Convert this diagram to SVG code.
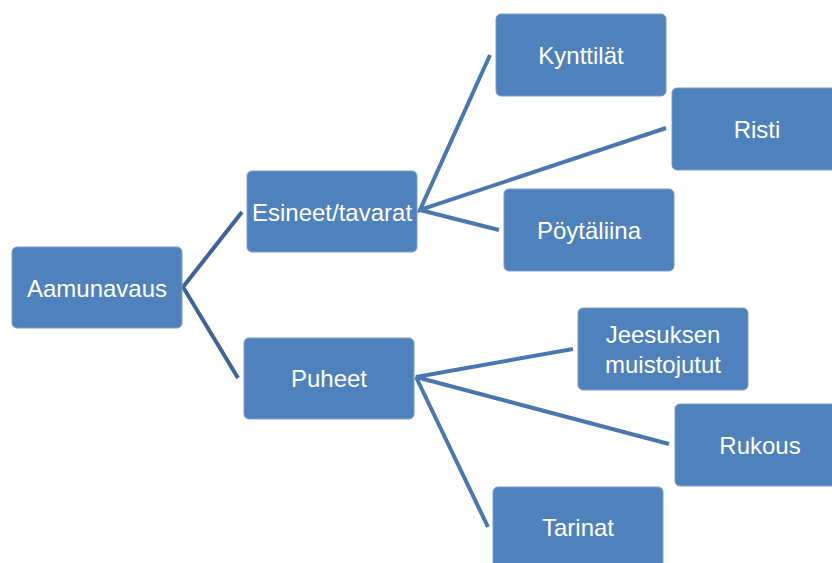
<svg xmlns="http://www.w3.org/2000/svg" width="832" height="563" viewBox="0 0 832 563">
<style>
.node rect{fill:#4F81BD;stroke:#7A9FCC;stroke-width:1}
.node text{fill:#FFFFFF;font-family:"Liberation Sans","Noto Sans",Arial,sans-serif;font-size:24px;text-anchor:middle;dominant-baseline:central}
.c1{stroke:#3C6595;stroke-width:4;fill:none}
.c2{stroke:#4A77AF;stroke-width:4;fill:none}
</style>
<rect width="832" height="563" fill="#FFFFFF"/>
<g id="connectors">
<path class="c1" d="M242,212 L183,287 L238,378"/>
<path class="c2" d="M490,55 L420,210 L666,128 M420,210 L499,230"/>
<path class="c2" d="M573,349 L416,377 L669,444 M416,377 L488,527"/>
</g>
<g id="n-aamunavaus" class="node"><rect x="12" y="247" width="170" height="81" rx="5"/><text x="97" y="288">Aamunavaus</text></g>
<g id="n-esineet" class="node"><rect x="247" y="171" width="170" height="81" rx="5"/><text x="332" y="212">Esineet/tavarat</text></g>
<g id="n-puheet" class="node"><rect x="244" y="338" width="170" height="81" rx="5"/><text x="329" y="378">Puheet</text></g>
<g id="n-kynttilat" class="node"><rect x="496" y="14" width="170" height="82" rx="5"/><text x="581" y="55">Kynttilät</text></g>
<g id="n-risti" class="node"><rect x="672" y="88" width="170" height="82" rx="5"/><text x="757" y="129">Risti</text></g>
<g id="n-poytaliina" class="node"><rect x="504" y="189" width="170" height="82" rx="5"/><text x="589" y="230">Pöytäliina</text></g>
<g id="n-jeesuksen" class="node"><rect x="578" y="308" width="170" height="82" rx="5"/><text x="663" y="334">Jeesuksen</text><text x="663" y="364">muistojutut</text></g>
<g id="n-rukous" class="node"><rect x="675" y="404" width="170" height="82" rx="5"/><text x="760" y="445">Rukous</text></g>
<g id="n-tarinat" class="node"><rect x="493" y="487" width="170" height="82" rx="5"/><text x="578" y="527">Tarinat</text></g>
</svg>
